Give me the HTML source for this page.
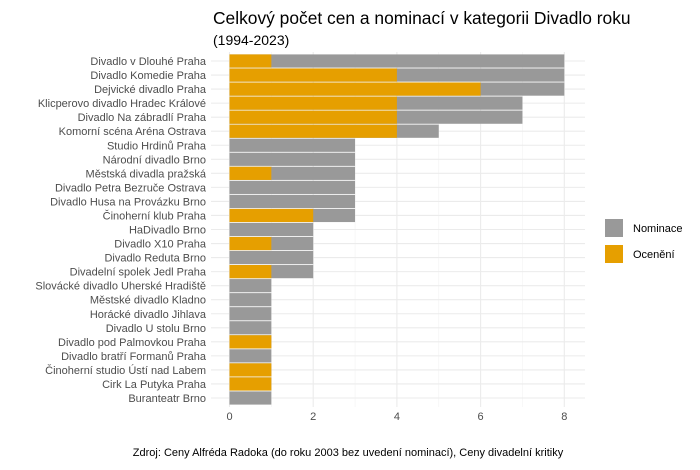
<!DOCTYPE html>
<html><head><meta charset="utf-8"><style>
body{margin:0;background:#fff;font-family:"Liberation Sans",sans-serif;}
svg text{font-family:"Liberation Sans",sans-serif;}
</style></head><body>
<svg width="700" height="465" viewBox="0 0 700 465">
<g id="grid"></g><g id="bars"></g><g id="labels"></g>
<text x="213" y="24" font-size="17.4" fill="#000">Celkový počet cen a nominací v kategorii Divadlo roku</text>
<text x="213" y="45" font-size="14" fill="#000">(1994-2023)</text>
<text x="348" y="456" font-size="11" fill="#000" text-anchor="middle">Zdroj: Ceny Alfréda Radoka (do roku 2003 bez uvedení nominací), Ceny divadelní kritiky</text>
<g>
<rect x="605" y="219" width="18" height="18" fill="#999999"/>
<text x="633" y="232" font-size="11" fill="#000">Nominace</text>
<rect x="605" y="245" width="18" height="18" fill="#E69F00"/>
<text x="633" y="258" font-size="11" fill="#000">Ocenění</text>
</g>
</svg>
<script>
const categories=["Divadlo v Dlouhé Praha","Divadlo Komedie Praha","Dejvické divadlo Praha","Klicperovo divadlo Hradec Králové","Divadlo Na zábradlí Praha","Komorní scéna Aréna Ostrava","Studio Hrdinů Praha","Národní divadlo Brno","Městská divadla pražská","Divadlo Petra Bezruče Ostrava","Divadlo Husa na Provázku Brno","Činoherní klub Praha","HaDivadlo Brno","Divadlo X10 Praha","Divadlo Reduta Brno","Divadelní spolek Jedl Praha","Slovácké divadlo Uherské Hradiště","Městské divadlo Kladno","Horácké divadlo Jihlava","Divadlo U stolu Brno","Divadlo pod Palmovkou Praha","Divadlo bratří Formanů Praha","Činoherní studio Ústí nad Labem","Cirk La Putyka Praha","Buranteatr Brno"];
const oceneni=[1,4,6,4,4,4,0,0,1,0,0,2,0,1,0,1,0,0,0,0,1,0,1,1,0];
const nominace=[7,4,2,3,3,1,3,3,2,3,3,1,2,1,2,1,1,1,1,1,0,1,0,0,1];
const ticks=[0,2,4,6,8];
const NS="http://www.w3.org/2000/svg";
const x0=229.5,ux=41.85,y0=61,step=(398-61)/(categories.length-1),bh=13.2;
const xs=v=>x0+v*ux, ys=i=>y0+i*step;
const pLeft=211,pRight=585,pTop=52,pBottom=407;
function mk(t,a,p){const e=document.createElementNS(NS,t);for(const k in a)e.setAttribute(k,a[k]);p.appendChild(e);return e;}
const gG=document.getElementById('grid'),gB=document.getElementById('bars'),gL=document.getElementById('labels');
for(let v=1;v<8;v+=2){const e=mk('line',{x1:xs(v),x2:xs(v),y1:pTop,y2:pBottom,stroke:'#f3f3f3','stroke-width':0.6},gG);

}
ticks.forEach(v=>{const e=mk('line',{x1:xs(v),x2:xs(v),y1:pTop,y2:pBottom,stroke:'#ebebeb','stroke-width':1.1},gG);


const t=mk('text',{x:xs(v),y:420,'font-size':11,fill:'#4d4d4d','text-anchor':'middle'},gL);t.textContent=v;

});
categories.forEach((c,i)=>{const y=ys(i);
const gl=mk('line',{x1:pLeft,x2:pRight,y1:y,y2:y,stroke:'#ebebeb','stroke-width':1.1},gG);


const tot=oceneni[i]+nominace[i];
const r1=mk('rect',{x:xs(0),y:y-bh/2,width:xs(tot)-xs(0),height:bh,fill:'#999999'},gB);


if(oceneni[i]>0){const r2=mk('rect',{x:xs(0),y:y-bh/2,width:xs(oceneni[i])-xs(0),height:bh,fill:'#E69F00'},gB);

}
const t=mk('text',{x:206,y:y+4,'font-size':11,fill:'#4d4d4d','text-anchor':'end'},gL);t.textContent=c;

});
</script>
</body></html>
